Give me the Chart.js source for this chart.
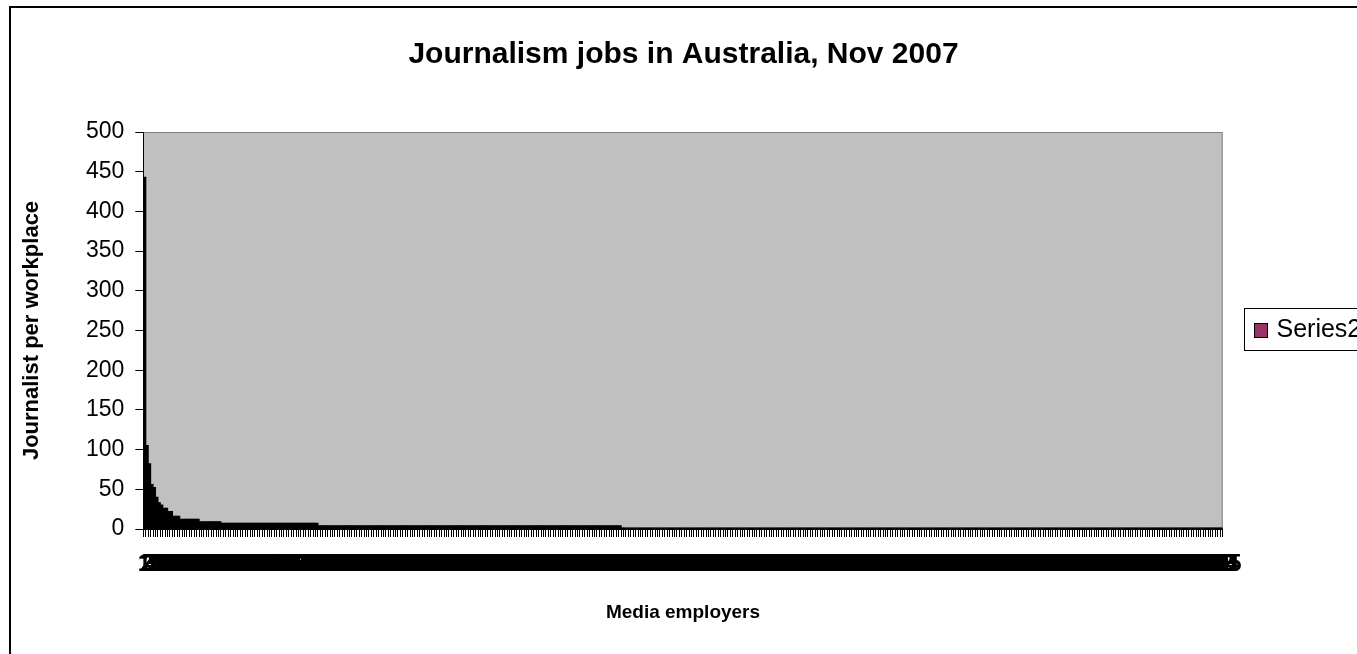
<!DOCTYPE html>
<html>
<head>
<meta charset="utf-8">
<script src="https://cdn.jsdelivr.net/npm/chart.js@4.4.1/dist/chart.umd.min.js"></script>
<style>
  html, body { margin: 0; padding: 0; background: #fff; }
  #wrap { position: relative; width: 1357px; height: 654px; }
</style>
</head>
<body>
<div id="wrap"><canvas id="c"></canvas></div>
<script>
const chartTitle = 'Journalism jobs in Australia, Nov 2007';
const xTitle = 'Media employers';
const yTitle = 'Journalist per workplace';
const seriesName = 'Series2';

// journalists per workplace, largest employers first
const headcounts = [443, 105, 82, 56, 52, 40, 33, 30, 26, 22, 16, 12, 9, 7, 4, 1];
// number of consecutive employers sharing each headcount
const employerRuns = [1, 1, 1, 1, 1, 1, 1, 1, 2, 2, 3, 8, 9, 40, 125, 248];

// value axis
const yMin = 0;
const yMax = 500;
const yStep = 50;

const journalists = [];
headcounts.forEach((v, i) => {
  for (let k = 0; k < employerRuns[i]; k++) journalists.push(v);
});
// employers are simply numbered 1..N
const employers = journalists.map((_, i) => String(i + 1));

// series fill shown in the legend key; with several hundred narrow
// bars only their black outlines remain visible, so the bars are black
const seriesColor = '#993366';
const barOutline = '#000000';

const FONT = "Arial, 'Liberation Sans', sans-serif";
Chart.defaults.font.family = FONT;
Chart.defaults.color = '#000';

const frame = {
  id: 'frame',
  beforeDraw(chart) {
    const { ctx, chartArea: a } = chart;
    ctx.save();
    ctx.fillStyle = '#fff';
    ctx.fillRect(0, 0, chart.width, chart.height);
    ctx.fillStyle = '#c0c0c0';
    ctx.fillRect(a.left, a.top, a.right - a.left, a.bottom - a.top);
    ctx.strokeStyle = '#808080';
    ctx.lineWidth = 1;
    ctx.beginPath();
    ctx.moveTo(a.left, a.top + 0.5);
    ctx.lineTo(a.right - 0.5, a.top + 0.5);
    ctx.lineTo(a.right - 0.5, a.bottom);
    ctx.stroke();
    ctx.restore();
  },
  afterDraw(chart) {
    const { ctx } = chart;
    const ds = chart.data.datasets[0];
    ctx.save();
    // outer chart border
    ctx.strokeStyle = '#000';
    ctx.lineWidth = 2;
    ctx.strokeRect(10, 7, 1420, 720);
    // legend box
    ctx.lineWidth = 1;
    ctx.fillStyle = '#fff';
    ctx.fillRect(1244.5, 308.5, 200, 42);
    ctx.strokeRect(1244.5, 308.5, 200, 42);
    ctx.fillStyle = seriesColor;
    ctx.fillRect(1254.5, 323.5, 13, 14);
    ctx.strokeRect(1254.5, 323.5, 13, 14);
    ctx.fillStyle = '#000';
    ctx.font = '25px ' + FONT;
    ctx.textBaseline = 'alphabetic';
    ctx.textAlign = 'left';
    ctx.fillText(ds.label, 1276.5, 337);
    ctx.restore();
  }
};

new Chart(document.getElementById('c'), {
  type: 'bar',
  data: {
    labels: employers,
    datasets: [{
      label: seriesName,
      data: journalists,
      backgroundColor: barOutline,
      borderWidth: 0,
      inflateAmount: 0.6,
      barPercentage: 1,
      categoryPercentage: 1
    }]
  },
  options: {
    responsive: true,
    maintainAspectRatio: false,
    animation: false,
    layout: { padding: { top: 7, left: 10, right: 0, bottom: 0 } },
    plugins: {
      legend: { display: false },
      tooltip: { enabled: false },
      title: {
        display: true,
        text: chartTitle,
        color: '#000',
        font: { size: 30, weight: 'bold' },
        padding: { top: 30, bottom: 59 }
      }
    },
    scales: {
      x: {
        afterFit(s) { s.height = 125; },
        grid: { drawOnChartArea: false, color: '#000', tickLength: 8, offset: true },
        border: { color: '#000', width: 1 },
        ticks: { autoSkip: false, maxRotation: 0, minRotation: 0, padding: 13, font: { size: 24, weight: 'bold' }, color: '#000' },
        title: { display: true, text: xTitle, color: '#000', font: { size: 19, weight: 'bold' }, padding: { top: 0, bottom: 30 } }
      },
      y: {
        min: yMin,
        max: yMax,
        afterFit(s) { s.width = 133.3; },
        grid: { drawOnChartArea: false, color: '#000', tickLength: 8 },
        border: { color: '#000', width: 1 },
        ticks: { stepSize: yStep, padding: 11, font: { size: 23 }, color: '#000' },
        title: { display: true, text: yTitle, color: '#000', font: { size: 22, weight: 'bold' }, padding: { top: 9, bottom: 0 } }
      },
      // empty right-hand strip that holds the legend
      legendStrip: {
        type: 'linear',
        position: 'right',
        afterFit(s) { s.width = 134.3; },
        grid: { display: false },
        border: { display: false },
        ticks: { display: false }
      }
    }
  },
  plugins: [frame]
});
</script>
</body>
</html>
